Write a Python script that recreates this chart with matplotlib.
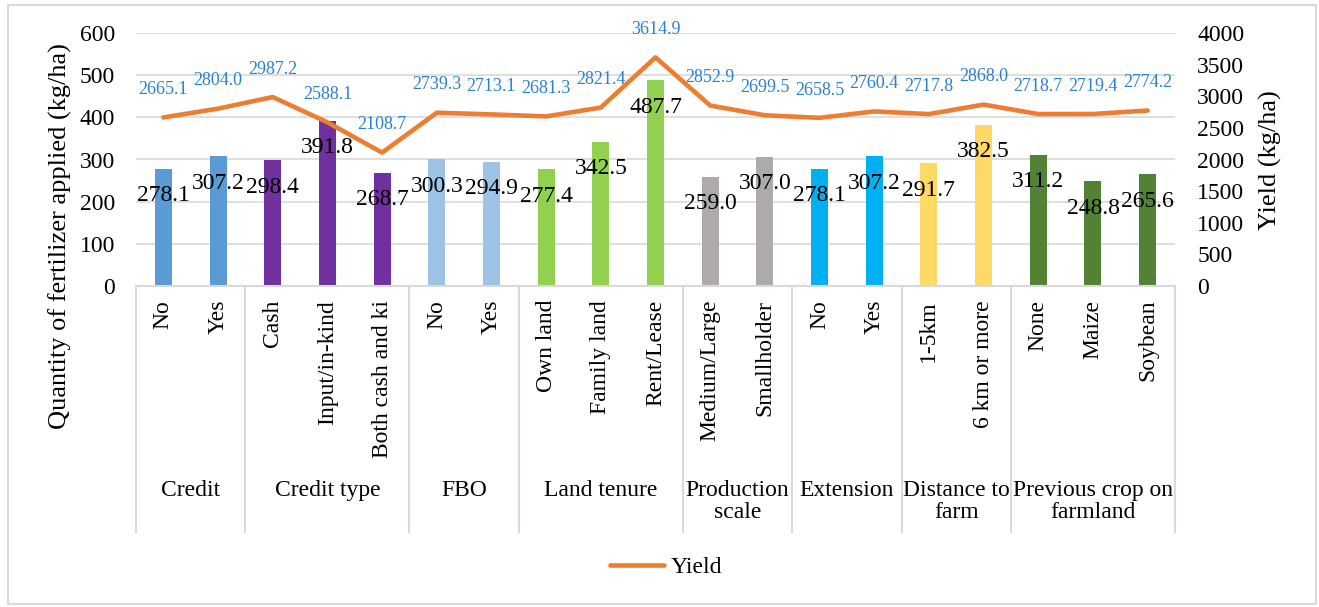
import numpy as np
import matplotlib.pyplot as plt
from matplotlib.patches import Rectangle
from matplotlib.lines import Line2D

plt.rcParams['font.family'] = ['Liberation Serif', 'DejaVu Serif']

# data
groups = ['Credit', 'Credit type', 'FBO', 'Land tenure', 'Production\nscale',
          'Extension', 'Distance to\nfarm', 'Previous crop on\nfarmland']
group_sizes = [2, 3, 2, 3, 2, 2, 2, 3]
group_colors = ['#5B9BD5', '#7030A0', '#9DC3E6', '#92D050', '#AEAAAA',
                '#00B0F0', '#FFD966', '#548235']
cats = ['No', 'Yes', 'Cash', 'Input/in-kind', 'Both cash and ki', 'No', 'Yes',
        'Own land', 'Family land', 'Rent/Lease', 'Medium/Large', 'Smallholder',
        'No', 'Yes', '1-5km', '6 km or more', 'None', 'Maize', 'Soybean']
fert = [278.1, 307.2, 298.4, 391.8, 268.7, 300.3, 294.9, 277.4, 342.5, 487.7,
        259.0, 307.0, 278.1, 307.2, 291.7, 382.5, 311.2, 248.8, 265.6]
yld = [2665.1, 2804.0, 2987.2, 2588.1, 2108.7, 2739.3, 2713.1, 2681.3, 2821.4,
       3614.9, 2852.9, 2699.5, 2658.5, 2760.4, 2717.8, 2868.0, 2718.7, 2719.4,
       2774.2]

W, H = 1319, 607
fig = plt.figure(figsize=(W / 100, H / 100), dpi=100)
ax = fig.add_axes([136 / W, 1 - 286 / H, (1175 - 136) / W, (286 - 33) / H])

x = np.arange(len(cats))
colors = []
for c, n in zip(group_colors, group_sizes):
    colors += [c] * n

ax.bar(x, fert, width=0.31, color=colors, zorder=2)
for xi, v in zip(x, fert):
    ax.annotate(f'{v:.1f}', (xi, v), xytext=(0, -19.5), textcoords='offset points',
                ha='center', va='center', fontsize=17, color='black', zorder=3)

ax.set_xlim(-0.5, len(cats) - 0.5)
ax.set_ylim(0, 600)
ax.set_yticks(np.arange(0, 601, 100))
ax.yaxis.grid(True, color='#D9D9D9', lw=1.2, zorder=0)
ax.set_axisbelow(True)
for s in ['top', 'right', 'left']:
    ax.spines[s].set_visible(False)
ax.spines['bottom'].set_color('#D9D9D9')
ax.spines['bottom'].set_linewidth(1.5)
ax.tick_params(axis='y', length=0, pad=15, labelsize=17)
ax.set_xticks(x)
ax.set_xticklabels(cats, rotation=90, fontsize=17, va='top', ha='center')
ax.tick_params(axis='x', length=0, pad=10)

# group separators and group labels
ax_h = 286 - 33
bottom_sep = -(532 - 286) / ax_h
edges = np.concatenate([[0], np.cumsum(group_sizes)]) - 0.5
for e in edges:
    ax.plot([e, e], [0, bottom_sep], transform=ax.get_xaxis_transform(),
            color='#D9D9D9', lw=1.5, clip_on=False)
for g, a, b in zip(groups, edges[:-1], edges[1:]):
    ax.text((a + b) / 2, -(480 - 286) / ax_h, g, transform=ax.get_xaxis_transform(),
            ha='center', va='top', fontsize=17, linespacing=1.05)

ax2 = ax.twinx()
ax2.plot(x, yld, color='#ED7D31', lw=3.3, solid_joinstyle='round',
         solid_capstyle='round', zorder=4)
for xi, v in zip(x, yld):
    ax2.annotate(f'{v:.1f}', (xi, v), xytext=(0, 20), textcoords='offset points',
                 ha='center', va='center', fontsize=13, color='#2A80D0')
ax2.set_ylim(0, 4000)
ax2.set_yticks(np.arange(0, 4001, 500))
for s in ax2.spines.values():
    s.set_visible(False)
ax2.tick_params(axis='y', length=0, pad=16, labelsize=17)

fig.text(60 / W, 1 - 236 / H, 'Quantity of fertilizer applied (kg/ha)',
         rotation=90, ha='center', va='center', fontsize=19)
fig.text(1270 / W, 1 - 160 / H, 'Yield (kg/ha)',
         rotation=90, ha='center', va='center', fontsize=19)

fig.legend([Line2D([], [], color='#ED7D31', lw=3.3, solid_capstyle='round')],
           ['Yield'], loc='center', bbox_to_anchor=(666 / W, 1 - 567 / H),
           frameon=False, fontsize=17, handlelength=2.3, handletextpad=0.25)

fig.add_artist(Rectangle((8 / W, 1 - 604 / H), (1316 - 8) / W, (604 - 5) / H,
                         transform=fig.transFigure, fill=False,
                         edgecolor='#D9D9D9', lw=1.5))

fig.savefig('out.png', dpi=100)
